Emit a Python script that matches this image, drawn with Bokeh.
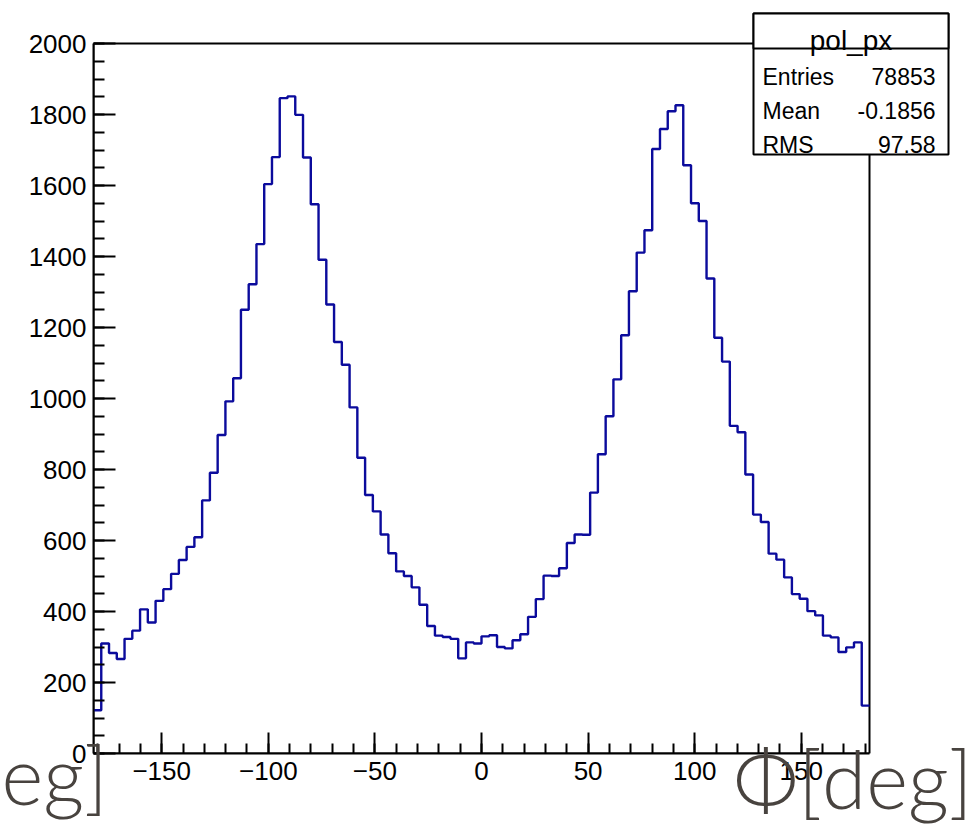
import numpy as np
from bokeh.plotting import figure
from bokeh.models import SingleIntervalTicker, BoxAnnotation, Label, Range1d, Title
from bokeh.embed import file_html
from bokeh.resources import INLINE

# ---------------- data ----------------
phi_min = -182.0
phi_max = 182.0
n_bins = 100
counts = [122, 310, 283, 266, 323, 346, 406, 369, 430, 463,
          506, 545, 582, 609, 713, 791, 897, 992, 1057, 1250,
          1322, 1435, 1604, 1680, 1846, 1851, 1799, 1679, 1547, 1391,
          1265, 1159, 1095, 975, 833, 728, 682, 617, 564, 513,
          500, 468, 419, 359, 332, 328, 323, 268, 313, 310,
          330, 333, 300, 296, 319, 336, 385, 435, 501, 500,
          522, 593, 617, 616, 735, 843, 950, 1054, 1178, 1302,
          1411, 1474, 1703, 1759, 1809, 1826, 1657, 1550, 1500, 1338,
          1171, 1104, 923, 905, 786, 673, 652, 563, 546, 496,
          449, 436, 401, 389, 332, 327, 286, 299, 313, 135]
y_max = 2000
hist_name = "pol_px"
stat_names = ["Entries", "Mean", "RMS"]
stat_values = ["78853", "-0.1856", "97.58"]
x_title = "Φ[deg]"
cut_title = "eg]"

# ---------------- geometry (canvas pixels) ----------------
W, H = 972, 827
RL, RT, RW, RH = 93, 43, 776, 710      # ROOT frame (histogram box)
RB = RT + RH


def px2x(px):
    return phi_min + (px - RL) / RW * (phi_max - phi_min)


def py2y(py):
    return y_max * (RB - py) / RH


edges = np.linspace(phi_min, phi_max, n_bins + 1)
xs = np.column_stack([edges[:-1], edges[1:]]).ravel()
ys = np.repeat(np.array(counts, dtype=float), 2)

# Bokeh frame spans from the ROOT frame's left/bottom edges to the canvas top/right
p = figure(width=W, height=H, frame_width=W - RL, frame_height=RB,
           x_range=Range1d(phi_min, px2x(W)), y_range=Range1d(0, py2y(0)),
           output_backend="svg", toolbar_location=None,
           min_border_left=RL, min_border_top=0, min_border_right=0,
           min_border_bottom=H - RB)
p.background_fill_color = "white"
p.border_fill_color = "white"
p.outline_line_color = None
p.xgrid.visible = False
p.ygrid.visible = False

# ROOT frame box
p.add_layout(BoxAnnotation(left=phi_min, right=phi_max, bottom=0, top=y_max,
                           fill_alpha=0, line_color="black", line_width=2,
                           line_alpha=1.0, level="underlay"))

p.line(xs, ys, line_color="#0b0b9c", line_width=2.4)

FONT = "Liberation Sans"
p.xaxis.ticker = SingleIntervalTicker(interval=50, num_minor_ticks=5)
p.yaxis.ticker = SingleIntervalTicker(interval=200, num_minor_ticks=4)
p.xaxis.bounds = (phi_min, phi_max)
p.yaxis.bounds = (0, y_max)
for ax in (p.xaxis[0], p.yaxis[0]):
    ax.axis_line_color = "black"
    ax.axis_line_width = 2
    ax.major_tick_line_color = "black"
    ax.minor_tick_line_color = "black"
    ax.major_tick_line_width = 2
    ax.minor_tick_line_width = 2
    ax.major_tick_out = 0
    ax.minor_tick_out = 0
    ax.major_label_text_font = FONT
    ax.major_label_text_font_size = "26px"
    ax.major_label_text_color = "black"
p.xaxis.major_tick_in = 21
p.xaxis.minor_tick_in = 10
p.yaxis.major_tick_in = 22
p.yaxis.minor_tick_in = 11
p.xaxis.major_label_standoff = 8
p.yaxis.major_label_standoff = 7

# ---------------- stats box ----------------
BX0, BX1, BY0, BYS, BY1 = 753, 948, 13, 48, 154
p.add_layout(BoxAnnotation(left=px2x(BX0), right=px2x(BX1), top=py2y(BY0), bottom=py2y(BY1),
                           fill_color="white", fill_alpha=1.0, line_color="black",
                           line_width=2, line_alpha=1.0, level="overlay"))
p.add_layout(BoxAnnotation(left=px2x(BX0), right=px2x(BX1), top=py2y(BY0), bottom=py2y(BYS),
                           fill_color="white", fill_alpha=1.0, line_color="black",
                           line_width=2, line_alpha=1.0, level="overlay"))
p.add_layout(Label(x=px2x((BX0 + BX1) / 2), y=py2y(40), text=hist_name,
                   text_align="center", text_baseline="alphabetic", level="overlay",
                   text_font=FONT, text_font_size="28px", text_color="black"))
row_base = [76, 110, 144]
for name, val, yb in zip(stat_names, stat_values, row_base):
    p.add_layout(Label(x=px2x(762), y=py2y(yb), text=name, text_align="left",
                       text_baseline="alphabetic", text_font=FONT, level="overlay",
                       text_font_size="23px", text_color="black"))
    p.add_layout(Label(x=px2x(935), y=py2y(yb), text=val, text_align="right",
                       text_baseline="alphabetic", text_font=FONT, level="overlay",
                       text_font_size="23px", text_color="black"))

# ---------------- overlaid slide titles (below the axis) ----------------
TITLE_FONT = "Lato Light, Lato"
title_color = "#48433f"
p.add_layout(Title(text=x_title, align="right", vertical_align="top", offset=0,
                   standoff=-106, text_font=TITLE_FONT, text_font_size="80px",
                   text_font_style="normal", text_color=title_color), "below")
p.add_layout(Title(text=cut_title, align="left", vertical_align="top", offset=-92,
                   standoff=-114, text_font=TITLE_FONT, text_font_size="80px",
                   text_font_style="normal", text_color=title_color), "below")

open("out.html", "w").write(file_html(p, INLINE))
